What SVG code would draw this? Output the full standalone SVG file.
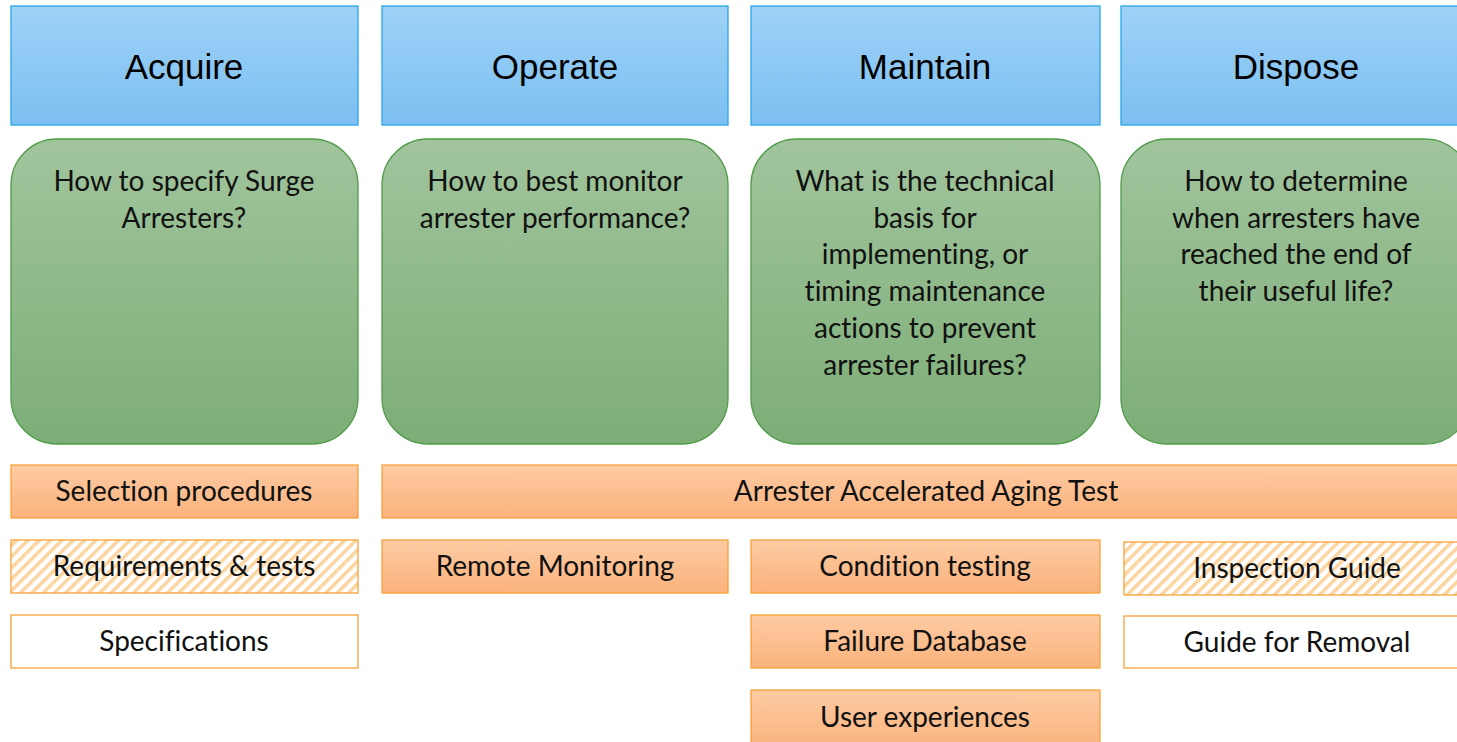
<svg xmlns="http://www.w3.org/2000/svg" width="1457" height="742" viewBox="0 0 1457 742">
<defs>
<linearGradient id="gBlue" x1="0" y1="0" x2="0" y2="1"><stop offset="0" stop-color="#9ED2F8"/><stop offset="1" stop-color="#7CBFF0"/></linearGradient>
<linearGradient id="gGreen" x1="0" y1="0" x2="0" y2="1"><stop offset="0" stop-color="#A1C49D"/><stop offset="1" stop-color="#7DAE77"/></linearGradient>
<linearGradient id="gOrange" x1="0" y1="0" x2="0" y2="1"><stop offset="0" stop-color="#FDCBA3"/><stop offset="1" stop-color="#FAB27C"/></linearGradient>
<pattern id="hatch" patternUnits="userSpaceOnUse" width="8" height="8" patternTransform="rotate(45)">
<rect width="8" height="8" fill="#FFFFFF"/>
<rect width="3.5" height="8" fill="#FBD49F"/>
</pattern>
<style>
.hdr{fill:url(#gBlue);stroke:#27A7E6;stroke-width:1.3}
.q{fill:url(#gGreen);stroke:#4E9C48;stroke-width:1.3}
.ob{fill:url(#gOrange);stroke:#F7A237;stroke-width:1.3}
.hb{fill:url(#hatch);stroke:#F7A237;stroke-width:1.3}
.wb{fill:#FFFFFF;stroke:#F7A237;stroke-width:1.3}
.ht{font-family:"Liberation Sans",Arial,sans-serif;font-size:35px;fill:#000;text-anchor:middle}
.t{font-family:Lato,"Open Sans",sans-serif;font-size:28px;fill:#111;text-anchor:middle;font-variant-ligatures:none}
</style>
</defs>
<g id="header-acquire"><rect class="hdr" x="11" y="6" width="347" height="119"/><text class="ht" x="184" y="79">Acquire</text></g>
<g id="header-operate"><rect class="hdr" x="382" y="6" width="346" height="119"/><text class="ht" x="555" y="79">Operate</text></g>
<g id="header-maintain"><rect class="hdr" x="751" y="6" width="349" height="119"/><text class="ht" x="925" y="79">Maintain</text></g>
<g id="header-dispose"><rect class="hdr" x="1121" y="6" width="350" height="119"/><text class="ht" x="1296" y="79">Dispose</text></g>

<g id="q-acquire"><rect class="q" x="11" y="139" width="347" height="305" rx="46"/>
<text class="t" x="184" y="191">How to specify Surge</text><text class="t" x="184" y="228">Arresters?</text></g>
<g id="q-operate"><rect class="q" x="382" y="139" width="346" height="305" rx="46"/>
<text class="t" x="555" y="191">How to best monitor</text><text class="t" x="555" y="228">arrester performance?</text></g>
<g id="q-maintain"><rect class="q" x="751" y="139" width="349" height="305" rx="46"/>
<text class="t" x="925" y="191">What is the technical</text><text class="t" x="925" y="228">basis for</text><text class="t" x="925" y="264">implementing, or</text><text class="t" x="925" y="301">timing maintenance</text><text class="t" x="925" y="338">actions to prevent</text><text class="t" x="925" y="375">arrester failures?</text></g>
<g id="q-dispose"><rect class="q" x="1121" y="139" width="350" height="305" rx="46"/>
<text class="t" x="1296" y="191">How to determine</text><text class="t" x="1296" y="228">when arresters have</text><text class="t" x="1296" y="264">reached the end of</text><text class="t" x="1296" y="301">their useful life?</text></g>

<g id="selection-procedures"><rect class="ob" x="11" y="465" width="347" height="53"/><text class="t" x="184" y="501">Selection procedures</text></g>
<g id="aging-test"><rect class="ob" x="382" y="465" width="1089" height="53"/><text class="t" x="926" y="501">Arrester Accelerated Aging Test</text></g>
<g id="requirements-tests"><rect class="hb" x="11" y="540" width="347" height="53"/><text class="t" x="184" y="576">Requirements &amp; tests</text></g>
<g id="remote-monitoring"><rect class="ob" x="382" y="540" width="346" height="53"/><text class="t" x="555" y="576">Remote Monitoring</text></g>
<g id="condition-testing"><rect class="ob" x="751" y="540" width="349" height="53"/><text class="t" x="925" y="576">Condition testing</text></g>
<g id="inspection-guide"><rect class="hb" x="1124" y="542" width="347" height="53"/><text class="t" x="1297" y="578">Inspection Guide</text></g>
<g id="specifications"><rect class="wb" x="11" y="615" width="347" height="53"/><text class="t" x="184" y="651">Specifications</text></g>
<g id="failure-database"><rect class="ob" x="751" y="615" width="349" height="53"/><text class="t" x="925" y="651">Failure Database</text></g>
<g id="guide-removal"><rect class="wb" x="1124" y="616" width="347" height="52"/><text class="t" x="1297" y="652">Guide for Removal</text></g>
<g id="user-experiences"><rect class="ob" x="751" y="690" width="349" height="60"/><text class="t" x="925" y="727">User experiences</text></g>
<g id="connectors"/>
</svg>
